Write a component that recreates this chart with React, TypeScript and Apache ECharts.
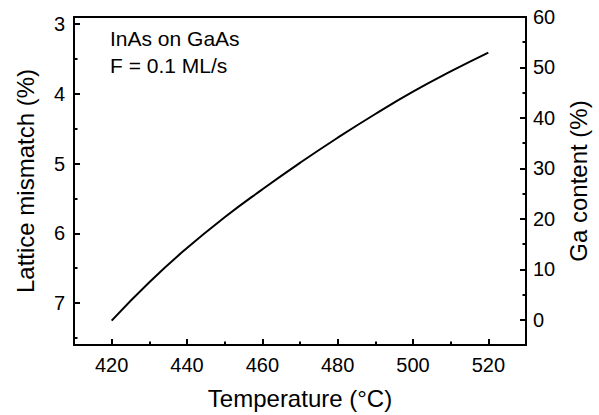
import React, { useEffect, useRef } from "react";
import * as echarts from "echarts";

const temperature = [420, 430, 440, 450, 460, 470, 480, 490, 500, 510, 520];
const mismatch = [7.25, 6.7, 6.21, 5.77, 5.37, 4.99, 4.63, 4.29, 3.97, 3.68, 3.41];
const xMajor = [420, 440, 460, 480, 500, 520];
const xMinor = [430, 450, 470, 490, 510];
const leftMajor = [3, 4, 5, 6, 7];
const leftMinor = [3.5, 4.5, 5.5, 6.5, 7.5];
const rightMajor = [0, 10, 20, 30, 40, 50, 60];
const rightMinor = [5, 15, 25, 35, 45, 55];
const annotation = ["InAs on GaAs", "F = 0.1 ML/s"];

const FONT = "Liberation Sans, Arial, Helvetica, sans-serif";

export default function App() {
  const ref = useRef<HTMLDivElement>(null);
  useEffect(() => {
    if (!ref.current) return;
    const chart = echarts.init(ref.current, null, { renderer: "svg" });
    const line = { show: true, onZero: false, lineStyle: { color: "#000", width: 2 } };
    const lbl = { color: "#000", fontSize: 20, fontFamily: FONT };
    const tickMaj = (vals: number[]) => ({
      show: true,
      inside: true,
      length: 6,
      lineStyle: { color: "#000", width: 2 },
      customValues: vals,
    });
    const tickMin = (vals: number[]) => ({
      show: true,
      inside: true,
      length: 3.5,
      lineStyle: { color: "#000", width: 2 },
      customValues: vals,
    });
    const nameStyle = { color: "#000", fontSize: 24, fontFamily: FONT };
    chart.setOption({
      animation: false,
      grid: {
        left: 74,
        right: 73,
        top: 17,
        bottom: 68,
        show: true,
        borderColor: "#000",
        borderWidth: 2,
        backgroundColor: "transparent",
      },
      xAxis: [
        {
          type: "value",
          min: 410,
          max: 530,
          position: "bottom",
          axisLine: line,
          axisTick: tickMaj(xMajor),
          axisLabel: { ...lbl, margin: 10, customValues: xMajor },
          splitLine: { show: false },
          name: "Temperature (°C)",
          nameLocation: "middle",
          nameGap: 41,
          nameTextStyle: nameStyle,
        },
        {
          type: "value",
          min: 410,
          max: 530,
          position: "bottom",
          axisLine: line,
          axisTick: tickMin(xMinor),
          axisLabel: { show: false },
          splitLine: { show: false },
        },
      ],
      yAxis: [
        {
          type: "value",
          inverse: true,
          min: 2.9,
          max: 7.6,
          position: "left",
          axisLine: line,
          axisTick: tickMaj(leftMajor),
          axisLabel: { ...lbl, margin: 9, customValues: leftMajor },
          splitLine: { show: false },
          name: "Lattice mismatch (%)",
          nameLocation: "middle",
          nameGap: 37,
          nameTextStyle: nameStyle,
        },
        {
          type: "value",
          inverse: true,
          min: 2.9,
          max: 7.6,
          position: "left",
          axisLine: line,
          axisTick: tickMin(leftMinor),
          axisLabel: { show: false },
          splitLine: { show: false },
        },
        {
          type: "value",
          min: -5,
          max: 60,
          position: "right",
          axisLine: line,
          axisTick: tickMaj(rightMajor),
          axisLabel: { ...lbl, margin: 7, customValues: rightMajor },
          splitLine: { show: false },
          name: "Ga content (%)",
          nameLocation: "middle",
          nameGap: 39,
          nameTextStyle: nameStyle,
        },
        {
          type: "value",
          min: -5,
          max: 60,
          position: "right",
          axisLine: line,
          axisTick: tickMin(rightMinor),
          axisLabel: { show: false },
          splitLine: { show: false },
        },
      ],
      graphic: [
        {
          type: "text",
          left: 110,
          top: 25,
          style: {
            text: annotation.join("\n"),
            fill: "#000",
            fontSize: 21,
            fontFamily: FONT,
            lineHeight: 27,
          },
        },
      ],
      series: [
        {
          type: "line",
          xAxisIndex: 0,
          yAxisIndex: 0,
          data: temperature.map((t, i) => [t, mismatch[i]]),
          smooth: true,
          showSymbol: false,
          lineStyle: { color: "#000", width: 2 },
        },
      ],
    });
    return () => chart.dispose();
  }, []);
  return (
    <div
      ref={ref}
      style={{ position: "fixed", left: 0, top: 0, width: 599, height: 415, background: "#fff" }}
    />
  );
}
